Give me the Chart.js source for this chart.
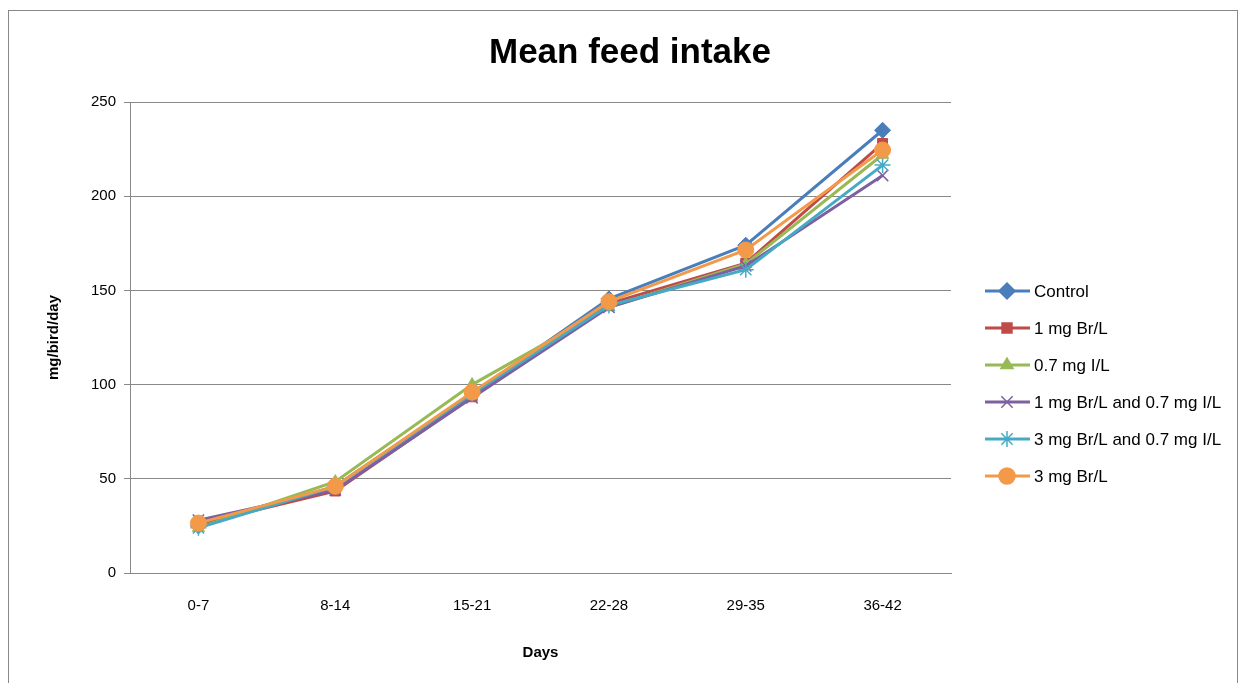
<!DOCTYPE html>
<html>
<head>
<meta charset="utf-8">
<script src="https://cdn.jsdelivr.net/npm/chart.js@4"></script>
<style>
  body { margin: 0; background: #fff; }
  #wrap { width: 1244px; height: 683px; position: relative; }
</style>
</head>
<body>
<div id="wrap"><canvas id="chart"></canvas></div>
<script>
const days = ['0-7', '8-14', '15-21', '22-28', '29-35', '36-42'];
const yTicks = [0, 50, 100, 150, 200, 250];

const control   = [25, 46, 95, 145.5, 174, 235];
const br1       = [26, 43.5, 93.5, 143, 164.5, 228];
const iodine07  = [24, 48.5, 100, 141, 164, 222];
const br1i07    = [28, 44, 93, 141, 163, 211];
const br3i07    = [24, 46, 95, 142, 161, 216.5];
const br3       = [26.5, 46, 96, 144, 171.5, 224.5];

const seriesNames = ['Control', '1 mg Br/L', '0.7 mg I/L', '1 mg Br/L and 0.7 mg I/L', '3 mg Br/L and 0.7 mg I/L', '3 mg Br/L'];
const seriesData = [control, br1, iodine07, br1i07, br3i07, br3];
const colors = ['#4A7EBB', '#BE4B48', '#98B954', '#7D60A0', '#46AAC5', '#F39A4A'];
const markers = ['rectRot', 'rect', 'triangle', 'crossRot', 'star', 'circle'];
const markerSize = [8, 7, 7, 8, 8, 8];

const font = "'Liberation Sans', 'DejaVu Sans', sans-serif";

const datasets = seriesData.map((d, i) => ({
  label: seriesNames[i],
  data: d,
  borderColor: colors[i],
  backgroundColor: colors[i],
  borderWidth: 3,
  pointStyle: markers[i],
  pointRadius: markerSize[i],
  pointBorderWidth: (markers[i] === 'crossRot' || markers[i] === 'star') ? 1.5 : 1,
  pointBorderColor: colors[i],
  pointBackgroundColor: colors[i],
  order: seriesData.length - 1 - i,
  tension: 0
}));

// title, legend on the right and the outer frame
const decorations = {
  id: 'decorations',
  afterDraw(chart) {
    const ctx = chart.ctx;
    ctx.save();
    ctx.fillStyle = '#000';
    ctx.font = 'bold 35px ' + font;
    ctx.textAlign = 'center';
    ctx.textBaseline = 'middle';
    ctx.fillText('Mean feed intake', 630, 53);

    ctx.textAlign = 'left';
    seriesNames.forEach((name, i) => {
      const y = 291 + i * 37;
      ctx.strokeStyle = colors[i];
      ctx.lineWidth = 3;
      ctx.beginPath();
      ctx.moveTo(985, y);
      ctx.lineTo(1030, y);
      ctx.stroke();
      ctx.fillStyle = colors[i];
      ctx.lineWidth = 1.5;
      Chart.helpers.drawPoint(ctx, {
        pointStyle: markers[i],
        radius: markerSize[i],
        rotation: 0,
        borderWidth: 1.5
      }, 1007, y);
      ctx.fillStyle = '#000';
      ctx.font = '17px ' + font;
      ctx.textBaseline = 'middle';
      ctx.fillText(name, 1034, y + 1);
    });

    ctx.strokeStyle = '#888';
    ctx.lineWidth = 1;
    ctx.strokeRect(8.5, 10.5, 1229, 700);
    ctx.restore();
  }
};

new Chart(document.getElementById('chart'), {
  type: 'line',
  data: { labels: days, datasets: datasets },
  options: {
    responsive: true,
    maintainAspectRatio: false,
    animation: false,
    layout: { padding: { left: 41, right: 293, top: 102, bottom: 17 } },
    plugins: {
      legend: { display: false },
      tooltip: { enabled: false },
      title: { display: false }
    },
    scales: {
      x: {
        offset: true,
        grid: { display: false, drawTicks: true },
        border: { color: '#888' },
        ticks: { color: '#000', font: { family: font, size: 15 }, padding: 16 },
        title: {
          display: true,
          text: 'Days',
          color: '#000',
          font: { family: font, size: 15, weight: 'bold' },
          padding: { top: 13 }
        }
      },
      y: {
        min: 0,
        max: 250,
        afterBuildTicks(axis) { axis.ticks = yTicks.map(v => ({ value: v })); },
        grid: { color: '#888', tickLength: 6 },
        border: { color: '#888' },
        ticks: { color: '#000', font: { family: font, size: 15 }, padding: 8 },
        title: {
          display: true,
          text: 'mg/bird/day',
          color: '#000',
          font: { family: font, size: 15, weight: 'bold' },
          padding: { bottom: 20 }
        }
      }
    }
  },
  plugins: [decorations]
});
</script>
</body>
</html>
